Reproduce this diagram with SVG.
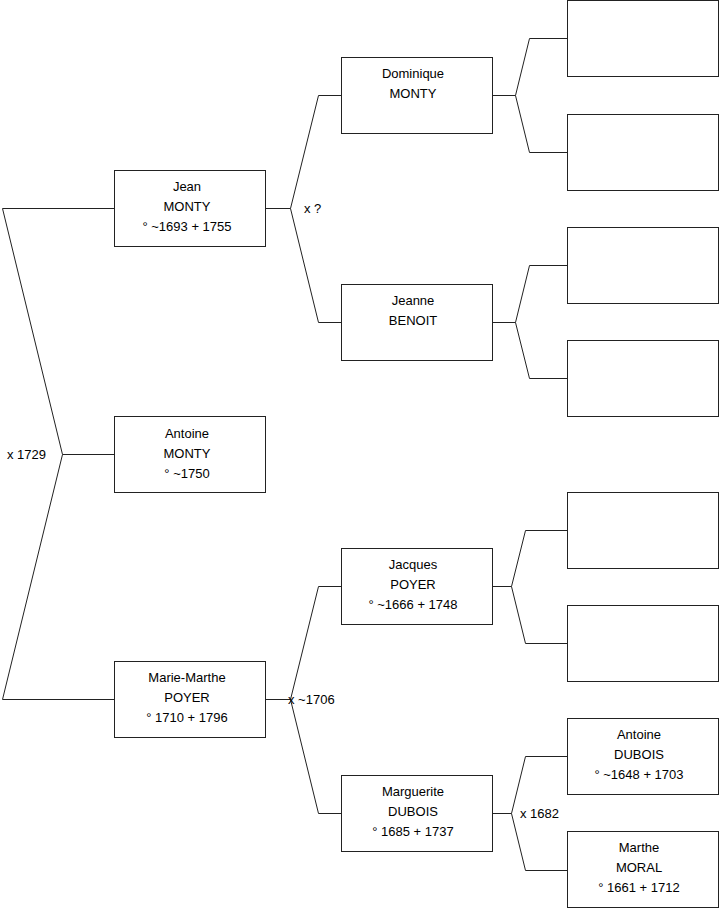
<svg xmlns="http://www.w3.org/2000/svg" width="719" height="908" viewBox="0 0 719 908">
<style>
rect{fill:#fff;stroke:#222;stroke-width:1}
path{fill:none;stroke:#222;stroke-width:1}
text{font-family:"Liberation Sans",Arial,sans-serif;font-size:13px;fill:#000}
.c{text-anchor:middle}
</style>
<rect x="0" y="0" width="719" height="908" style="fill:#fff;stroke:none"/>
<g id="connectors">
<path d="M114,208.5 H2.5 L62.5,454.5 L2.5,699.5 H114 M62.5,454.5 H114"/>
<path d="M265,208.5 H290.5 L318.5,95.5 H341 M290.5,208.5 L318.5,322.5 H341"/>
<path d="M265,699.5 H290.5 L318.5,586.5 H341 M290.5,699.5 L318.5,813.5 H341"/>
<path d="M492,95.5 H515.5 L529.5,38.5 H567 M515.5,95.5 L529.5,152.5 H567"/>
<path d="M492,322.5 H515.5 L529.5,265.5 H567 M515.5,322.5 L529.5,378.5 H567"/>
<path d="M492,586.5 H511.5 L525.5,530.5 H567 M511.5,586.5 L525.5,643.5 H567"/>
<path d="M492,813.5 H511.5 L525.5,756.5 H567 M511.5,813.5 L525.5,870.5 H567"/>
<text x="7" y="459">x 1729</text>
<text x="304" y="213">x ?</text>
<text x="288" y="704">x ~1706</text>
<text x="520" y="818">x 1682</text>
</g>
<g id="jean"><rect x="114.5" y="170.5" width="151" height="76"/><text class="c" x="187" y="191">Jean</text><text class="c" x="187" y="211">MONTY</text><text class="c" x="187" y="231">° ~1693 + 1755</text></g>
<g id="antoine"><rect x="114.5" y="416.5" width="151" height="76"/><text class="c" x="187" y="438">Antoine</text><text class="c" x="187" y="458">MONTY</text><text class="c" x="187" y="478">° ~1750</text></g>
<g id="mariemarthe"><rect x="114.5" y="661.5" width="151" height="76"/><text class="c" x="187" y="682">Marie-Marthe</text><text class="c" x="187" y="702">POYER</text><text class="c" x="187" y="722">° 1710 + 1796</text></g>
<g id="dominique"><rect x="341.5" y="57.5" width="151" height="76"/><text class="c" x="413" y="78">Dominique</text><text class="c" x="413" y="98">MONTY</text></g>
<g id="jeanne"><rect x="341.5" y="284.5" width="151" height="76"/><text class="c" x="413" y="305">Jeanne</text><text class="c" x="413" y="325">BENOIT</text></g>
<g id="jacques"><rect x="341.5" y="548.5" width="151" height="76"/><text class="c" x="413" y="569">Jacques</text><text class="c" x="413" y="589">POYER</text><text class="c" x="413" y="609">° ~1666 + 1748</text></g>
<g id="marguerite"><rect x="341.5" y="775.5" width="151" height="76"/><text class="c" x="413" y="796">Marguerite</text><text class="c" x="413" y="816">DUBOIS</text><text class="c" x="413" y="836">° 1685 + 1737</text></g>
<g id="empty1"><rect x="567.5" y="0.5" width="151" height="76"/></g>
<g id="empty2"><rect x="567.5" y="114.5" width="151" height="76"/></g>
<g id="empty3"><rect x="567.5" y="227.5" width="151" height="76"/></g>
<g id="empty4"><rect x="567.5" y="340.5" width="151" height="76"/></g>
<g id="empty5"><rect x="567.5" y="492.5" width="151" height="76"/></g>
<g id="empty6"><rect x="567.5" y="605.5" width="151" height="76"/></g>
<g id="antoinedubois"><rect x="567.5" y="718.5" width="151" height="76"/><text class="c" x="639" y="739">Antoine</text><text class="c" x="639" y="759">DUBOIS</text><text class="c" x="639" y="779">° ~1648 + 1703</text></g>
<g id="marthe"><rect x="567.5" y="831.5" width="151" height="76"/><text class="c" x="639" y="852">Marthe</text><text class="c" x="639" y="872">MORAL</text><text class="c" x="639" y="892">° 1661 + 1712</text></g>
</svg>
